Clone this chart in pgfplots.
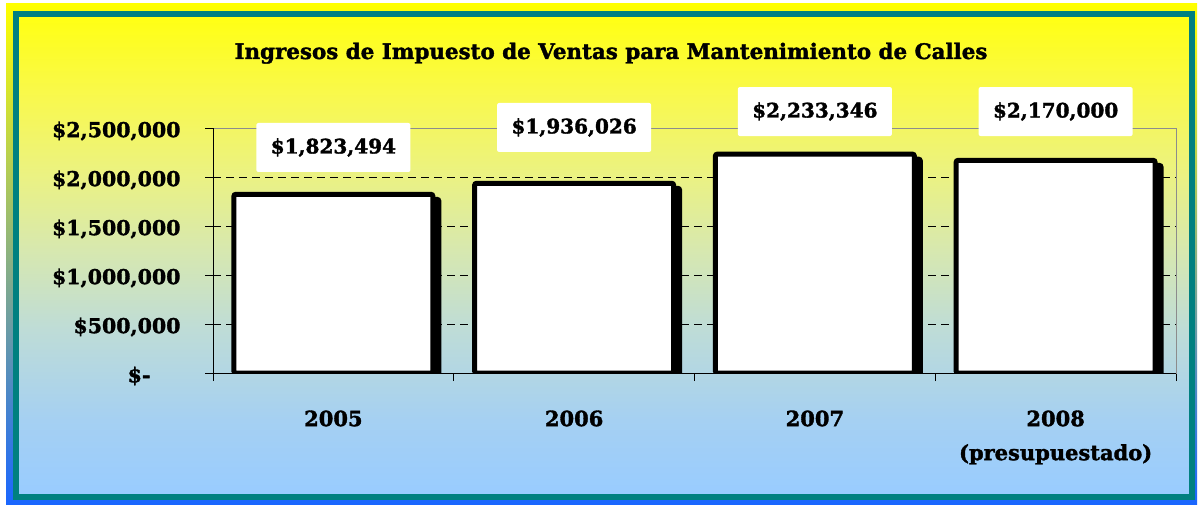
\documentclass[border=0pt]{standalone}
\usepackage{pgfplots}
\pgfplotsset{compat=1.18}
\usepackage{fontspec}
\setmainfont{DejaVu Serif}[BoldFeatures={FakeBold=1.6}]
\definecolor{tealb}{RGB}{0,128,128}
\definecolor{outerblue}{RGB}{26,102,255}
\definecolor{g0}{RGB}{153,204,255}
\definecolor{g1}{RGB}{165,208,242}
\definecolor{g2}{RGB}{190,220,215}
\definecolor{g3}{RGB}{215,232,175}
\definecolor{g4}{RGB}{235,242,130}
\definecolor{g5}{RGB}{248,248,80}
\definecolor{g6}{RGB}{255,255,20}
\pgfdeclareverticalshading{innergrad}{100bp}{%
  color(0bp)=(g0);
  color(25bp)=(g0);
  color(32.75bp)=(g1);
  color(42.2bp)=(g2);
  color(50.6bp)=(g3);
  color(58.5bp)=(g4);
  color(66.3bp)=(g5);
  color(75bp)=(g6);
  color(100bp)=(g6)}
\pgfplotstableread{
x y off
0 1823494 46.8
1 1936026 55.8
2 2233346 42.6
3 2170000 48.8
}\bardata
\begin{document}
\begin{tikzpicture}[x=1pt,y=1pt]
% page background
\fill[white] (0,0) rectangle (1198,504);
\shade[top color=yellow, bottom color=outerblue] (6,0) rectangle (1197,500);
\shade[shading=innergrad] (19,10) rectangle (1189,487);
\draw[tealb, line width=6pt] (16,7) rectangle (1191.5,490);
% title
\node[anchor=base, font=\fontsize{21.4}{26}\selectfont\bfseries] at (611,445)
  {Ingresos de Impuesto de Ventas para Mantenimiento de Calles};
\begin{axis}[
  at={(213pt,131pt)}, anchor=south west,
  scale only axis, width=963pt, height=245pt,
  xmin=-0.5, xmax=3.5, ymin=0, ymax=2500000,
  ybar, bar width=199pt,
  axis line style={draw=gray!90, line width=1pt},
  tick align=outside, major tick length=8pt,
  tick style={black, line width=0.8pt},
  xtick pos=bottom, ytick pos=left,
  ytick={0,500000,1000000,1500000,2000000,2500000},
  yticklabels={{\$-\hspace*{30pt}},{\$500,000},{\$1,000,000},{\$1,500,000},{\$2,000,000},{\$2,500,000}},
  yticklabel style={font=\fontsize{20.5}{24}\selectfont\bfseries, xshift=-21pt, yshift=-3pt},
  xtick={-0.5,0.5,1.5,2.5,3.5},
  xticklabels={},
  extra x ticks={0,1,2,3},
  extra x tick labels={2005,2006,2007,{2008\\(presupuestado)}},
  extra x tick style={major tick length=0pt,
    xticklabel style={align=center, font=\fontsize{21}{34}\selectfont\bfseries, yshift=-34pt}},
  extra y ticks={500000,1000000,1500000,2000000},
  extra y tick labels={},
  extra y tick style={ymajorgrids=true, major tick length=0pt,
    major grid style={black, line width=0.8pt, dash pattern=on 8pt off 5pt}},
  scaled y ticks=false,
]
% shadow
\addplot[fill=black, draw=black, line width=5pt, rounded corners=2pt,
  bar shift=0pt, xshift=6pt, yshift=-5pt, forget plot]
  table[x=x, y=y] {\bardata};
% bars with value labels
\addplot[fill=white, draw=black, line width=5pt, rounded corners=2pt, bar shift=0pt,
  point meta=y,
  visualization depends on={\thisrow{off} \as \myoff},
  nodes near coords={\$\pgfmathprintnumber[fixed, precision=0, 1000 sep={,}, assume math mode=true]{\pgfplotspointmeta}},
  nodes near coords style={anchor=center, fill=white, draw=none, inner sep=0pt,
    line width=0pt, minimum width=154pt, minimum height=49pt, yshift=\myoff pt,
    font=\fontsize{20}{24}\selectfont\bfseries}]
  table[x=x, y=y] {\bardata};
\draw[black, line width=1pt] (rel axis cs:0,0) -- (rel axis cs:0,1);
\draw[black, line width=1pt] (rel axis cs:0,0) -- (rel axis cs:1,0);
\end{axis}
\end{tikzpicture}
\end{document}
